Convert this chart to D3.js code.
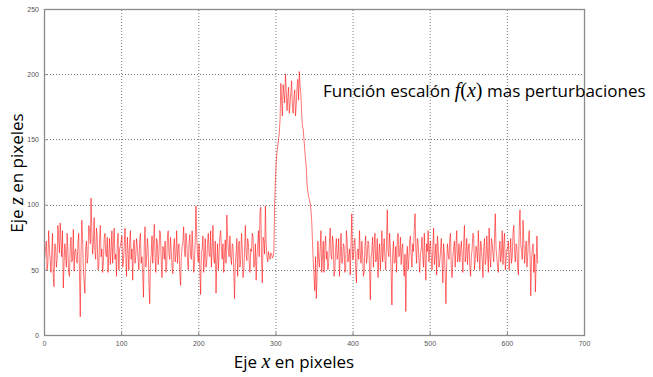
<!DOCTYPE html>
<html><head><meta charset="utf-8">
<script src="https://cdn.jsdelivr.net/npm/d3@7"></script>
<style>body{margin:0;background:#fff}svg{display:block}</style>
</head><body>
<svg id="c" width="653" height="377"></svg>
<script>
const xTicks = [0,100,200,300,400,500,600,700];
const yTicks = [0,50,100,150,200,250];
const xStart = 1, xStep = 1;
const zValues = [
59,66,72,50,55,80,66,58,48,62,78,45,37,70,68,52,58,84,74,63,
86,72,60,80,36,55,70,62,52,78,64,48,45,68,75,56,58,81,49,64,
66,58,55,70,78,47,14,62,88,74,50,41,32,66,72,55,60,84,80,70,
105,80,62,70,90,64,58,82,75,50,52,72,84,60,66,48,56,74,78,62,
60,75,48,62,74,54,65,80,55,70,82,58,62,45,70,78,50,66,68,72,
76,52,56,68,82,60,45,75,64,50,70,80,58,66,42,70,73,55,61,74,
68,58,50,72,78,55,60,46,29,70,83,52,58,74,66,40,24,55,62,76,
55,70,85,60,48,74,70,54,62,80,78,56,44,68,66,58,72,48,52,75,
80,62,58,75,64,52,47,68,74,56,62,80,55,66,70,48,38,60,68,70,
83,66,60,78,72,58,50,70,77,62,58,80,66,48,54,72,99,75,62,56,
70,50,31,64,66,76,48,60,74,52,56,70,78,62,60,80,52,66,84,58,
55,72,32,56,70,50,62,76,80,66,58,70,48,62,73,55,92,75,64,60,
76,60,54,70,68,48,28,55,62,74,45,66,72,52,58,78,66,44,50,64,
84,62,57,74,70,56,48,66,64,78,75,52,55,70,42,60,68,80,60,95,
98,58,40,75,72,62,99,70,60,56,64,60,58,63,62,59,60,64,101,118,
132,140,145,150,155,165,193,180,168,192,185,178,200,188,172,182,190,170,178,186,
195,175,170,182,188,168,176,190,196,180,202,190,185,170,160,158,150,142,135,128,
115,110,106,104,101,96,88,72,57,45,34,60,28,46,72,58,52,66,80,48,
60,72,48,66,76,58,64,50,55,70,82,62,58,76,70,45,50,66,74,58,
62,74,45,60,78,55,56,70,68,48,50,80,72,56,60,66,46,70,93,58,
58,70,74,52,40,64,66,58,80,62,55,72,62,45,48,68,76,55,60,72,
70,52,27,60,64,75,52,68,78,56,58,74,44,62,70,50,62,80,56,66,
74,58,50,70,96,64,60,78,66,48,23,62,72,55,56,68,48,74,78,60,
62,75,54,66,70,52,45,62,18,58,68,50,58,72,76,60,52,70,64,82,
93,66,55,74,70,58,48,62,66,75,60,52,78,58,42,70,64,80,56,68,
72,60,50,66,82,54,60,70,46,76,68,52,56,64,74,58,40,70,62,48,
24,55,70,62,58,74,78,50,44,60,66,72,52,68,80,56,60,70,56,64,
72,60,48,70,84,56,62,74,54,66,70,52,45,60,66,78,76,50,58,68,
64,56,80,62,50,72,68,58,44,66,74,54,58,76,62,48,82,60,52,74,
70,62,56,74,93,66,60,52,48,64,72,56,62,80,54,70,78,50,58,66,
66,72,50,62,74,55,60,78,84,64,56,70,68,52,46,80,96,70,64,58,
88,70,55,64,72,52,60,74,80,62,30,58,66,70,48,62,33,56,76,55
];
const data = zValues.map((v,i)=>({x:xStart+i*xStep, z:v}));

const svg = d3.select("#c");
const m = {l:44, r:69, t:9, b:42};
const W = 653, H = 377;
const x = d3.scaleLinear().domain([0,700]).range([m.l, W-m.r]);
const y = d3.scaleLinear().domain([0,250]).range([H-m.b, m.t]);

// grid
const g = svg.append("g");
g.selectAll(".gx").data(xTicks.slice(1,-1)).join("line")
  .attr("x1",d=>x(d)+0.5).attr("x2",d=>x(d)+0.5).attr("y1",y(0)).attr("y2",y(250))
  .attr("stroke","#7a7a7a").attr("stroke-width",1).attr("stroke-dasharray","1,2");
g.selectAll(".gy").data(yTicks.slice(1,-1)).join("line")
  .attr("y1",d=>Math.round(y(d))+0.5).attr("y2",d=>Math.round(y(d))+0.5).attr("x1",x(0)).attr("x2",x(700))
  .attr("stroke","#7a7a7a").attr("stroke-width",1).attr("stroke-dasharray","1,2");

// line
const line = d3.line().x(d=>x(d.x)).y(d=>y(d.z));
svg.append("path").datum(data).attr("d",line)
  .attr("fill","none").attr("stroke","#ff0000").attr("stroke-width",0.55).attr("stroke-linejoin","round");

// frame
svg.append("rect").attr("x",x(0)+0.5).attr("y",y(250)+0.5)
  .attr("width",x(700)-x(0)).attr("height",y(0)-y(250))
  .attr("fill","none").attr("stroke","#8a8a8a").attr("stroke-width",1.3);

// axes
const ax = svg.append("g").attr("transform",`translate(0,${y(0)})`)
  .call(d3.axisBottom(x).tickValues(xTicks).tickSize(-3).tickPadding(6));
const ay = svg.append("g").attr("transform",`translate(${x(0)},0)`)
  .call(d3.axisLeft(y).tickValues(yTicks).tickSize(-3).tickPadding(5));
[ax,ay].forEach(a=>{
  a.select(".domain").remove();
  a.selectAll(".tick line").attr("stroke","#8a8a8a");
  a.selectAll(".tick text").attr("fill","#555").style("font-family","Liberation Sans, sans-serif").style("font-size","7px");
});

// annotation
const t = svg.append("text").attr("x",323).attr("y",97)
  .style("font-family","Open Sans").style("font-size","17px").attr("fill","#000");
t.append("tspan").text("Función escalón ");
t.append("tspan").text("f").style("font-family","Liberation Serif").style("font-style","italic").style("font-size","20px");
t.append("tspan").text("(").style("font-family","Liberation Serif").style("font-size","20px");
t.append("tspan").text("x").style("font-family","Liberation Serif").style("font-style","italic").style("font-size","20px");
t.append("tspan").text(")").style("font-family","Liberation Serif").style("font-size","20px");
t.append("tspan").text(" mas perturbaciones");

// axis titles
const xl = svg.append("text").attr("x",294).attr("y",368).attr("text-anchor","middle")
  .style("font-family","Open Sans").style("font-size","17px");
xl.append("tspan").text("Eje ");
xl.append("tspan").text("x").style("font-family","Liberation Serif").style("font-style","italic").style("font-size","20px");
xl.append("tspan").text(" en pixeles");

const yl = svg.append("text").attr("transform","translate(23,173) rotate(-90)").attr("text-anchor","middle")
  .style("font-family","Open Sans").style("font-size","17px");
yl.append("tspan").text("Eje ");
yl.append("tspan").text("z").style("font-family","Liberation Serif").style("font-style","italic").style("font-size","20px");
yl.append("tspan").text(" en pixeles");
</script>
</body></html>
